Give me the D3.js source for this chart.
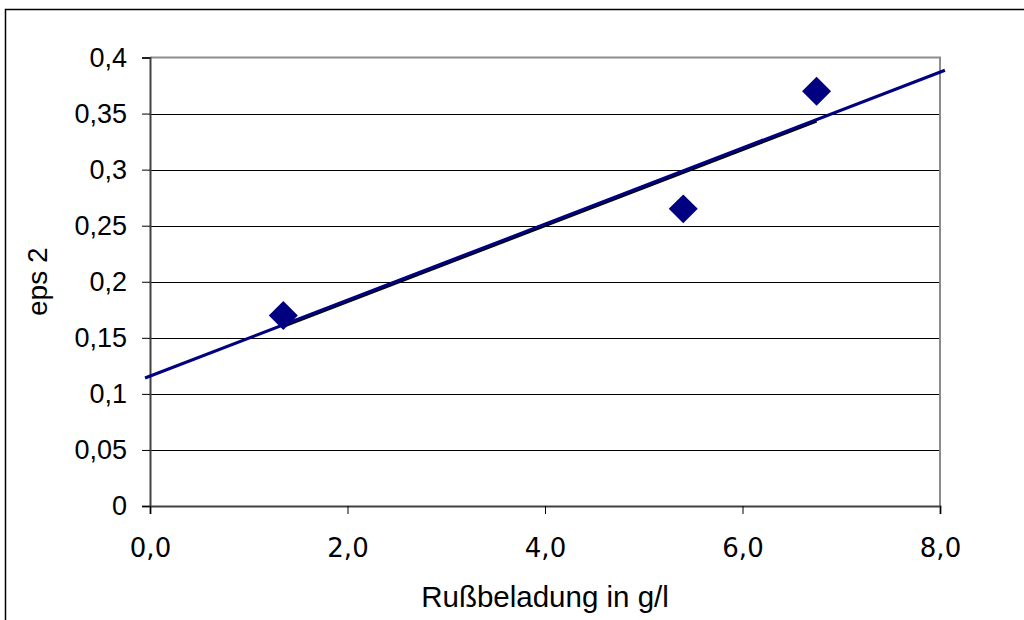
<!DOCTYPE html>
<html>
<head>
<meta charset="utf-8">
<script src="https://cdn.jsdelivr.net/npm/d3@7"></script>
<style>
  html, body { margin: 0; padding: 0; background: #fff; }
  svg { display: block; }
</style>
</head>
<body>
<svg id="chart" width="1024" height="620"></svg>
<script>
// Soot loading (g/l) vs. eps 2
const loading = [1.35, 5.4, 6.75];
const eps2 = [0.17, 0.265, 0.37];
const xTicks = [0, 2, 4, 6, 8];
const yTicks = [0, 0.05, 0.1, 0.15, 0.2, 0.25, 0.3, 0.35, 0.4];
const xTitle = "Rußbeladung in g/l";
const yTitle = "eps 2";

const svg = d3.select("#chart");
const plot = { left: 150, right: 940, top: 57.5, bottom: 506 };

const x = d3.scaleLinear().domain([0, 8]).range([plot.left, plot.right]);
const y = d3.scaleLinear().domain([0, 0.4]).range([plot.bottom, plot.top]);

const xFmt = d => d3.format(".1f")(d).replace(".", ",");
const yFmt = d => (d === 0 ? "0" : String(+d.toFixed(2)).replace(".", ","));

// chart area frame
svg.append("rect")
  .attr("x", 5.5).attr("y", 9.5)
  .attr("width", 1030).attr("height", 630)
  .attr("fill", "#fff").attr("stroke", "#000").attr("stroke-width", 1.5);

// horizontal gridlines
svg.append("g")
  .selectAll("line")
  .data(yTicks.filter(d => d > 0 && d < 0.4))
  .join("line")
  .attr("x1", plot.left).attr("x2", plot.right)
  .attr("y1", d => Math.round(y(d)) + 0.5).attr("y2", d => Math.round(y(d)) + 0.5)
  .attr("stroke", "#000").attr("stroke-width", 1);

// plot area border (top and right in gray)
svg.append("path")
  .attr("d", `M${plot.left},${plot.top} H${plot.right} V${plot.bottom}`)
  .attr("fill", "none").attr("stroke", "#8c8c8c").attr("stroke-width", 2);

// y axis
const yAxis = d3.axisLeft(y).tickValues(yTicks).tickFormat(yFmt).tickSize(8).tickPadding(15);
const gy = svg.append("g").attr("transform", `translate(${plot.left},0)`).call(yAxis);
gy.attr("font-size", null).attr("font-family", null);
gy.select(".domain").attr("stroke", "#404040").attr("stroke-width", 2);
gy.selectAll(".tick line").attr("stroke", "#000");
gy.selectAll(".tick text")
  .attr("font-family", "'Liberation Sans', Arial, sans-serif")
  .attr("font-size", 27).attr("fill", "#000");

// x axis
const xAxis = d3.axisBottom(x).tickValues(xTicks).tickFormat(xFmt).tickSize(8);
const gx = svg.append("g").attr("transform", `translate(0,${plot.bottom})`).call(xAxis);
gx.attr("font-size", null).attr("font-family", null);
gx.select(".domain").attr("stroke", "#404040").attr("stroke-width", 2);
gx.selectAll(".tick line").attr("stroke", "#000");
gx.selectAll(".tick text")
  .attr("y", 51).attr("dy", null)
  .attr("font-family", "'DejaVu Sans', Verdana, sans-serif")
  .attr("font-size", 26).attr("fill", "#000");

// axis titles
svg.append("text")
  .attr("x", (plot.left + plot.right) / 2).attr("y", 607)
  .attr("text-anchor", "middle")
  .attr("font-family", "'Liberation Sans', Arial, sans-serif")
  .attr("font-size", 29.5).attr("fill", "#000")
  .text(xTitle);

svg.append("text")
  .attr("transform", `translate(47,${(plot.top + plot.bottom) / 2}) rotate(-90)`)
  .attr("text-anchor", "middle")
  .attr("font-family", "'Liberation Sans', Arial, sans-serif")
  .attr("font-size", 28).attr("fill", "#000")
  .text(yTitle);

// least-squares trend line
const mx = d3.mean(loading), my = d3.mean(eps2);
const sxy = d3.sum(loading, (v, i) => (v - mx) * (eps2[i] - my));
const sxx = d3.sum(loading, v => (v - mx) * (v - mx));
const slope = sxy / sxx;
const intercept = my - slope * mx;
const fit = v => intercept + slope * v;

// dark line over the measured range, just beneath the trend line
svg.append("line")
  .attr("x1", x(d3.min(loading))).attr("y1", y(fit(d3.min(loading))) + 1.5)
  .attr("x2", x(d3.max(loading))).attr("y2", y(fit(d3.max(loading))) + 1.5)
  .attr("stroke", "#000").attr("stroke-width", 3);

// trend line across the full x range
svg.append("line")
  .attr("x1", x(-0.05)).attr("y1", y(fit(-0.05)))
  .attr("x2", x(8.05)).attr("y2", y(fit(8.05)))
  .attr("stroke", "#000080").attr("stroke-width", 3.2);

// data points (diamonds)
svg.append("g")
  .selectAll("path")
  .data(loading.map((v, i) => [v, eps2[i]]))
  .join("path")
  .attr("transform", d => `translate(${x(d[0])},${y(d[1])}) rotate(45)`)
  .attr("d", d3.symbol().type(d3.symbolSquare).size(420)())
  .attr("fill", "#000080");
</script>
</body>
</html>
